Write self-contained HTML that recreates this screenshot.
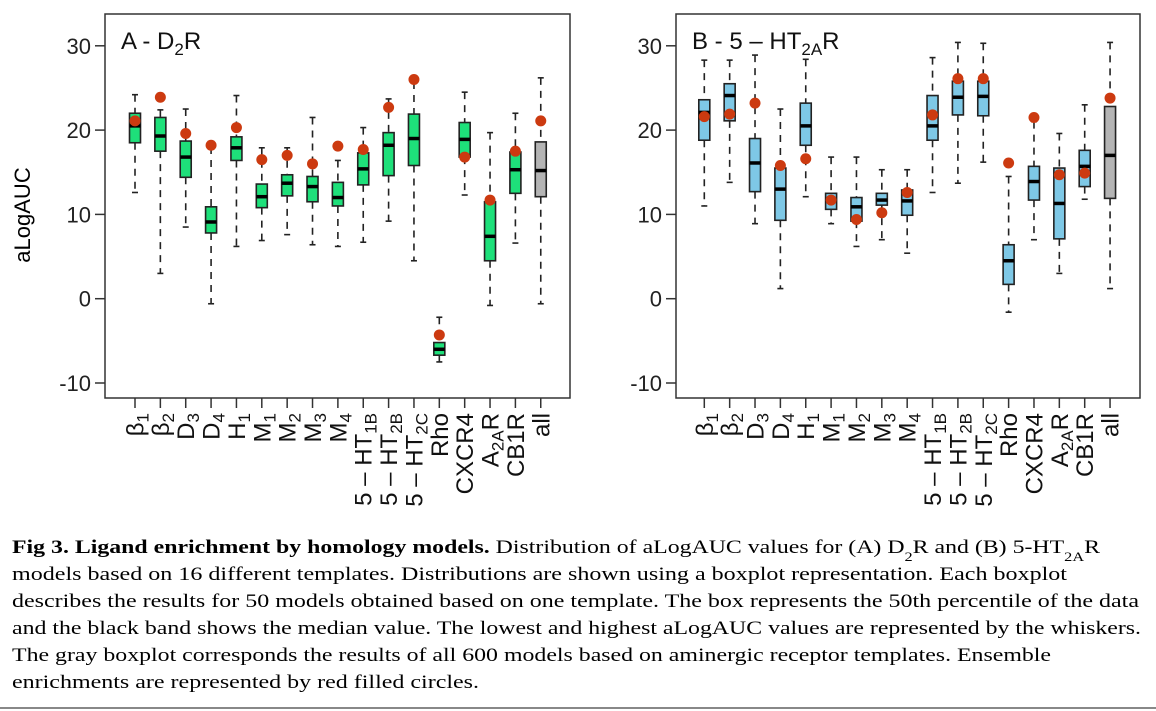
<!DOCTYPE html>
<html><head><meta charset="utf-8"><style>
html,body{margin:0;padding:0;background:#fff;width:1156px;height:711px;overflow:hidden}
svg text{font-family:"Liberation Sans",sans-serif}
.cap{font-family:"Liberation Serif",serif;font-size:19px}
</style></head><body>
<svg id="fig" width="1156" height="711" viewBox="0 0 1156 711" xmlns="http://www.w3.org/2000/svg">
<g id="panelA"></g>
<g id="panelB"></g>
<text x="30" y="215" transform="rotate(-90 30 215)" text-anchor="middle" font-size="22">aLogAUC</text>
<g>
<text class="cap" x="12" y="553" textLength="1088" lengthAdjust="spacingAndGlyphs"><tspan font-weight="bold">Fig 3.  Ligand enrichment by homology models.</tspan> Distribution of aLogAUC values for (A) D<tspan baseline-shift="sub" font-size="13">2</tspan>R and (B) 5-HT<tspan baseline-shift="sub" font-size="13">2A</tspan>R</text>
<text class="cap" x="12" y="580" textLength="1055" lengthAdjust="spacingAndGlyphs">models based on 16 different templates. Distributions are shown using a boxplot representation. Each boxplot</text>
<text class="cap" x="12" y="607" textLength="1127" lengthAdjust="spacingAndGlyphs">describes the results for 50 models obtained based on one template. The box represents the 50th percentile of the data</text>
<text class="cap" x="12" y="634" textLength="1129" lengthAdjust="spacingAndGlyphs">and the black band shows the median value. The lowest and highest aLogAUC values are represented by the whiskers.</text>
<text class="cap" x="12" y="661" textLength="1039" lengthAdjust="spacingAndGlyphs">The gray boxplot corresponds the results of all 600 models based on aminergic receptor templates. Ensemble</text>
<text class="cap" x="12" y="688" textLength="467" lengthAdjust="spacingAndGlyphs">enrichments are represented by red filled circles.</text>
</g>
<rect x="0" y="707" width="1156" height="2" fill="#888"/>
</svg>
<script>
const categories=["β1","β2","D3","D4","H1","M1","M2","M3","M4","5-HT1B","5-HT2B","5-HT2C","Rho","CXCR4","A2AR","CB1R","all"];
const yTicks=[30,20,10,0,-10];
// Panel A (D2R)
const aMin=[12.6,3.0,8.5,-0.6,6.2,6.9,7.6,6.4,6.2,6.7,9.2,4.5,-7.5,12.3,-0.8,6.6,-0.6];
const aQ1=[18.5,17.5,14.4,7.8,16.4,10.8,12.2,11.5,11.0,13.5,14.6,15.8,-6.7,16.8,4.5,12.5,12.1];
const aMed=[20.5,19.3,16.8,9.1,17.9,12.1,13.7,13.3,12.0,15.4,18.2,19.0,-6.0,18.9,7.4,15.3,15.2];
const aQ3=[22.0,21.5,18.7,10.9,19.2,13.6,14.7,14.5,13.8,17.3,19.7,21.9,-5.2,20.9,11.5,17.4,18.6];
const aMax=[24.2,22.4,22.5,18.0,24.1,17.9,17.9,21.5,16.4,20.3,23.7,25.7,-2.2,24.5,19.7,22.0,26.2];
const aEns=[21.1,23.9,19.6,18.2,20.3,16.5,17.0,16.0,18.1,17.7,22.7,26.0,-4.3,16.8,11.7,17.5,21.1];
// Panel B (5-HT2AR)
const bMin=[11.0,13.8,8.9,1.2,12.1,8.9,6.2,7.0,5.4,12.6,13.7,16.2,-1.6,7.0,3.0,11.8,1.2];
const bQ1=[18.8,21.1,12.7,9.3,18.2,10.6,9.2,11.1,9.9,18.8,21.8,21.7,1.7,11.7,7.1,13.3,11.9];
const bMed=[22.1,24.1,16.1,13.0,20.5,11.7,10.9,11.7,11.6,20.5,23.9,24.0,4.5,13.9,11.3,15.7,17.0];
const bQ3=[23.6,25.5,19.0,15.5,23.2,12.5,12.0,12.5,12.9,24.1,25.8,25.8,6.4,15.7,15.5,17.6,22.8];
const bMax=[28.3,28.3,28.9,22.5,28.4,16.8,16.8,15.3,15.3,28.6,30.4,30.3,14.5,21.0,19.6,23.0,30.4];
const bEns=[21.6,21.9,23.2,15.8,16.6,11.7,9.4,10.2,12.6,21.8,26.1,26.1,16.1,21.5,14.7,14.9,23.8];

const NS="http://www.w3.org/2000/svg";
function y(v){return 298.7-8.43*v;}
function mk(parent,tag,attrs){const e=document.createElementNS(NS,tag);for(const k in attrs)e.setAttribute(k,attrs[k]);parent.appendChild(e);return e;}
const labelParts=[["β","1"],["β","2"],["D","3"],["D","4"],["H","1"],["M","1"],["M","2"],["M","3"],["M","4"],["5 – HT","1B"],["5 – HT","2B"],["5 – HT","2C"],["Rho",""],["CXCR4",""],["A","2A","R"],["CB1R",""],["all",""]];

function draw(gid,left,right,x0,arrs,fill,title,sub,end,slug){
  const g=document.getElementById(gid);
  const [mn,q1,md,q3,mx,en]=arrs;
  const box=mk(g,"rect",{x:left,y:14,width:right-left,height:384,fill:"none",stroke:"#333","stroke-width":1.5});
  
  
  yTicks.forEach(t=>{
    const l=mk(g,"line",{x1:left-10,x2:left,y1:y(t),y2:y(t),stroke:"#333","stroke-width":1.5});
    
    
    const tx=mk(g,"text",{x:left-14,y:y(t)+8,"text-anchor":"end","font-size":22,fill:"#222"});
    tx.textContent=t;
    
    
  });
  const tt=mk(g,"text",{x:left+16,y:49,"font-size":24,fill:"#111"});
  
  
  tt.appendChild(document.createTextNode(title));
  const ts=mk(tt,"tspan",{"font-size":17,dy:6});ts.textContent=sub;
  const te=mk(tt,"tspan",{dy:-6});te.textContent=end;
  const dx=25.36;
  categories.forEach((c,i)=>{
    const cx=x0+i*dx;
    const tk=mk(g,"line",{x1:cx,x2:cx,y1:398,y2:408,stroke:"#333","stroke-width":1.5});
    
    
    const p=labelParts[i];
    const lt=mk(g,"text",{x:0,y:0,transform:`translate(${cx+8.5},413) rotate(-90)`,"text-anchor":"end","font-size":24,fill:"#111"});
    
    
    lt.appendChild(document.createTextNode(p[0]));
    if(p[1]){const s=mk(lt,"tspan",{"font-size":17,dy:5});s.textContent=p[1];}
    if(p[2]){const s=mk(lt,"tspan",{dy:-5});s.textContent=p[2];}
    const bg=mk(g,"g",{});
    
    
    mk(bg,"line",{x1:cx,x2:cx,y1:y(mx[i]),y2:y(q3[i]),stroke:"#222","stroke-width":1.6,"stroke-dasharray":"7,6"});
    mk(bg,"line",{x1:cx,x2:cx,y1:y(q1[i]),y2:y(mn[i]),stroke:"#222","stroke-width":1.6,"stroke-dasharray":"7,6"});
    mk(bg,"line",{x1:cx-3,x2:cx+3,y1:y(mx[i]),y2:y(mx[i]),stroke:"#222","stroke-width":1.6});
    mk(bg,"line",{x1:cx-3,x2:cx+3,y1:y(mn[i]),y2:y(mn[i]),stroke:"#222","stroke-width":1.6});
    mk(bg,"rect",{x:cx-5.5,y:y(q3[i]),width:11,height:y(q1[i])-y(q3[i]),fill:i===16?"#b4b4b4":fill,stroke:"#222","stroke-width":1.6});
    mk(bg,"line",{x1:cx-5.5,x2:cx+5.5,y1:y(md[i]),y2:y(md[i]),stroke:"#000","stroke-width":3.5});
    const d=mk(g,"circle",{cx:cx,cy:y(en[i]),r:5.5,fill:"#cc3a10"});
    
    
  });
}
draw("panelA",105,570,135,[aMin,aQ1,aMed,aQ3,aMax,aEns],"#1ee07a","A - D","2","R","panel-a");
draw("panelB",676,1140,704.3,[bMin,bQ1,bMed,bQ3,bMax,bEns],"#7ec8e6","B - 5 – HT","2A","R","panel-b");
</script>
</body></html>
